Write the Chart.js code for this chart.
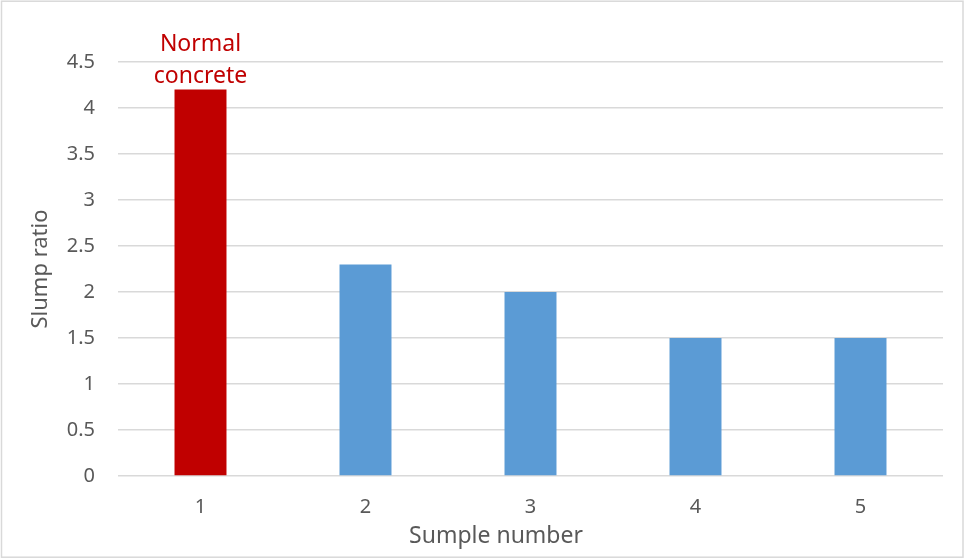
<!DOCTYPE html>
<html lang="en">
<head>
    <meta charset="UTF-8">
    <title>Slump ratio by sample</title>
    <script src="https://cdn.jsdelivr.net/npm/chart.js"></script>
    <style>
        body {
            margin: 0;
            padding: 0;
            background-color: #fff;
        }

        .container {
            width: 964px;
            height: 558px;
        }
    </style>
</head>
<body>
    <div class="container">
        <canvas id="slumpChart" width="964" height="558"></canvas>
    </div>

    <script>
        // Slump ratio for each sample
        const sampleNumbers = ['1', '2', '3', '4', '5'];
        const slumpRatio = [4.2, 2.3, 2.0, 1.5, 1.5];
        const barColors = ['#c00000', '#5b9bd5', '#5b9bd5', '#5b9bd5', '#5b9bd5'];
        const noteLines = ['Normal', 'concrete'];
        const xTitle = 'Sumple number';
        const yTitle = 'Slump ratio';

        const fontFamily = '"Noto Sans", "Open Sans", sans-serif';
        const gray = '#595959';

        // White background plus the thin frame round the chart
        const framePlugin = {
            id: 'frame',
            beforeDraw(chart) {
                const ctx = chart.ctx;
                ctx.save();
                ctx.fillStyle = '#fff';
                ctx.fillRect(0, 0, chart.width, chart.height);
                ctx.strokeStyle = '#d9d9d9';
                ctx.lineWidth = 1.5;
                ctx.strokeRect(1.5, 1.2, chart.width - 2.5, chart.height - 2);
                ctx.restore();
            }
        };

        // Red note above the first bar, and the x axis title
        // (which sits a little left of the plot centre)
        const textPlugin = {
            id: 'texts',
            afterDatasetsDraw(chart) {
                const bar = chart.getDatasetMeta(0).data[0];
                const ctx = chart.ctx;
                ctx.save();
                ctx.fillStyle = '#c00000';
                ctx.font = '23px ' + fontFamily;
                ctx.textAlign = 'center';
                ctx.textBaseline = 'alphabetic';
                ctx.fillText(noteLines[0], bar.x, bar.y - 39);
                ctx.fillText(noteLines[1], bar.x, bar.y - 7);

                ctx.fillStyle = gray;
                ctx.font = '23px ' + fontFamily;
                ctx.fillText(xTitle, 496, chart.height - 15);
                ctx.restore();
            }
        };

        const ctx = document.getElementById('slumpChart').getContext('2d');
        const slumpChart = new Chart(ctx, {
            type: 'bar',
            data: {
                labels: sampleNumbers,
                datasets: [{
                    data: slumpRatio,
                    backgroundColor: barColors,
                    borderWidth: 0,
                    barPercentage: 0.9,
                    categoryPercentage: 0.35
                }]
            },
            options: {
                responsive: false,
                animation: false,
                layout: {
                    padding: { left: 0, right: 21, top: 62, bottom: 0 }
                },
                plugins: {
                    legend: { display: false },
                    tooltip: { enabled: false }
                },
                scales: {
                    x: {
                        grid: { display: false, drawTicks: false },
                        border: { display: false },
                        ticks: {
                            color: gray,
                            font: { family: fontFamily, size: 20 },
                            padding: 19
                        },
                        afterFit(scale) {
                            scale.height = 82;
                        }
                    },
                    y: {
                        min: 0,
                        max: 4.5,
                        grid: {
                            color: '#d9d9d9',
                            lineWidth: 1.5,
                            drawTicks: false
                        },
                        border: { display: false },
                        ticks: {
                            stepSize: 0.5,
                            color: gray,
                            font: { family: fontFamily, size: 20 },
                            padding: 23,
                            callback: value => String(value)
                        },
                        title: {
                            display: true,
                            text: yTitle,
                            color: gray,
                            font: { family: fontFamily, size: 22 },
                            padding: { top: 28, bottom: 0 }
                        },
                        afterFit(scale) {
                            scale.width = 118;
                        }
                    }
                }
            },
            plugins: [framePlugin, textPlugin]
        });
    </script>
</body>
</html>
